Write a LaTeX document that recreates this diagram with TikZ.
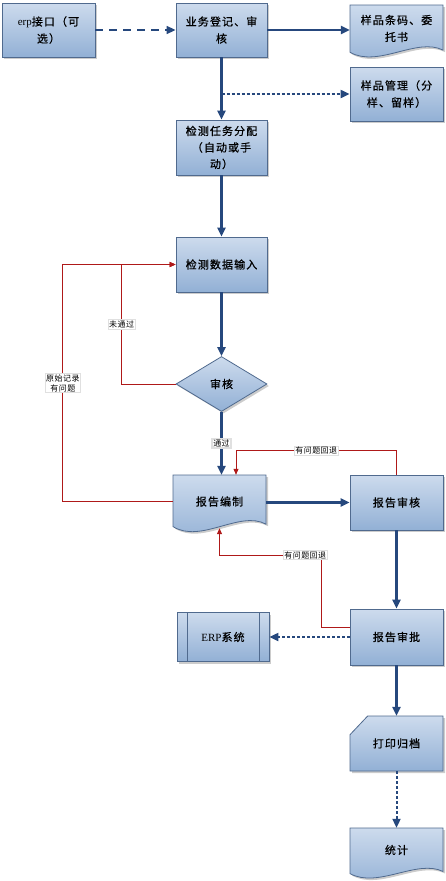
\documentclass[tikz,border=0pt]{standalone}
\usepackage{fontspec}
\setmainfont{Liberation Serif}
\newfontfamily\cjk[LetterSpace=10, FakeBold=0.8]{Noto Sans CJK SC}
\newfontfamily\cjklight[LetterSpace=6]{Noto Sans CJK SC}
\usetikzlibrary{shapes.geometric,arrows.meta,shadows,calc}
\definecolor{boxtop}{RGB}{205,219,237}
\definecolor{boxbottom}{RGB}{146,176,213}
\definecolor{boxline}{RGB}{80,106,142}
\definecolor{flowblue}{RGB}{38,72,125}
\definecolor{backred}{RGB}{175,25,25}
\tikzset{
    boxfill/.style={top color=boxtop, bottom color=boxbottom, draw=boxline, line width=0.8pt,
        drop shadow={shadow xshift=2pt, shadow yshift=-2pt, fill=black!40}},
    process/.style={rectangle, boxfill, minimum width=91pt, minimum height=54pt, align=center, inner sep=2pt,
        font=\cjk\fontsize{11}{17}\selectfont},
    textonly/.style={rectangle, minimum width=93pt, align=center, inner sep=0pt,
        font=\cjk\fontsize{11}{17}\selectfont},
    decision/.style={diamond, boxfill, aspect=1.65, minimum width=91pt, minimum height=55pt, inner sep=0pt,
        font=\cjk\fontsize{11}{17}\selectfont},
    predefined/.style={process, path picture={
        \draw[boxline, line width=0.8pt]
            ([xshift=10pt]path picture bounding box.north west) -- ([xshift=10pt]path picture bounding box.south west)
            ([xshift=-10pt]path picture bounding box.north east) -- ([xshift=-10pt]path picture bounding box.south east);}},
    flow/.style={line width=2.2pt, draw=flowblue, -{Triangle[length=9pt,width=8pt]}},
    optional/.style={flow, line width=1.6pt, dash pattern=on 8pt off 6pt},
    dottedflow/.style={flow, line width=2pt, dash pattern=on 3pt off 2pt},
    back/.style={line width=0.8pt, draw=backred, -{Triangle[length=6pt,width=5pt]}},
    lbl/.style={fill=white, draw=black!12, inner sep=1pt, text=black, align=center,
        font=\cjklight\fontsize{8}{10}\selectfont}
}
% document with wavy bottom: left, top, width, height
\newcommand{\wavedoc}[4]{%
    \begin{scope}[shift={(#1,#2)}, x=#3pt, y=-#4pt]
        \path[boxfill] (0,0) -- (1,0) -- (1,0.82) .. controls (0.72,0.58) and (0.3,1.15) .. (0,0.86) -- cycle;
    \end{scope}}
% card with cut corner: left, top, width, height
\newcommand{\cardshape}[4]{%
    \begin{scope}[shift={(#1,#2)}, x=#3pt, y=-#4pt]
        \path[boxfill] (0.19,0) -- (1,0) -- (1,1) -- (0,1) -- (0,0.34) -- cycle;
    \end{scope}}

\begin{document}
\begin{tikzpicture}[x=1pt, y=-1pt]
    \useasboundingbox (0,0) rectangle (446,881);
    % shapes drawn under their text nodes
    \wavedoc{350}{5}{93}{55}
    \wavedoc{173}{475}{93}{60}
    \wavedoc{350}{828}{93}{53}
    \cardshape{350}{716}{93}{55}

    % steps
    \node[process, minimum width=93pt] (erp) at (48.5,30) {\textrm{erp}接口（可\\选）};
    \node[process] (register) at (221.5,30) {业务登记、审\\核};
    \node[textonly, minimum height=47pt] (code) at (396.5,28.5) {样品条码、委\\托书};
    \node[process, minimum width=93pt] (sample) at (396.5,94) {样品管理（分\\样、留样）};
    \node[process, minimum height=55pt, font=\cjk\fontsize{11}{16.5}\selectfont] (assign) at (221.5,147.5) {检测任务分配\\（自动或手\\动）};
    \node[process, minimum height=55pt] (input) at (221.5,264.5) {检测数据输入};
    \node[decision] (check) at (221.5,384) {审核};
    \node[textonly, minimum height=53pt] (report) at (219.5,501.5) {报告编制};
    \node[process, minimum width=93pt, minimum height=55pt] (review) at (396.5,502.5) {报告审核};
    \node[predefined, minimum width=92pt, minimum height=49pt] (erpsys) at (223,637) {\textrm{ERP}系统};
    \node[process, minimum width=93pt, minimum height=56pt] (approve) at (396.5,637) {报告审批};
    \node[textonly, minimum height=55pt] (archive) at (396.5,743.5) {打印归档};
    \node[textonly, minimum height=44pt] (stat) at (396.5,850) {统计};

    % main flow
    \draw[optional] (erp) -- (register);
    \draw[flow] (register.east) -- (register.east -| code.west);
    \draw[flow] (register) -- (assign);
    \draw[dottedflow] (register.south |- sample.west) -- (sample.west);
    \draw[flow] (assign) -- (input);
    \draw[flow] (input) -- (check);
    \draw[flow] (check) -- node[lbl] {通过} (check.south |- report.north);
    \draw[flow] (review.west -| report.east) -- (review.west);
    \draw[flow] (review) -- (approve);
    \draw[dottedflow] (approve) -- (erpsys);
    \draw[flow] (approve) -- (archive);
    \draw[dottedflow] (archive) -- (stat);

    % returns
    \draw[back] (check.west) -- ++(-54,0) |- node[lbl, pos=0.25] {未通过} (input.west);
    \draw[back] (report.west) -- ++(-110,0) |- node[lbl, pos=0.25] {原始记录\\有问题} (input.west);
    \draw[back] (review.north) -- ++(0,-24) -| node[lbl, pos=0.25] {有问题回退} ([xshift=16.5pt]report.north);
    \draw[back] ([yshift=10pt]approve.west) -- ++(-28,0) -- ++(0,-72) -| node[lbl, pos=0.08] {有问题回退} (report.south);
\end{tikzpicture}
\end{document}
